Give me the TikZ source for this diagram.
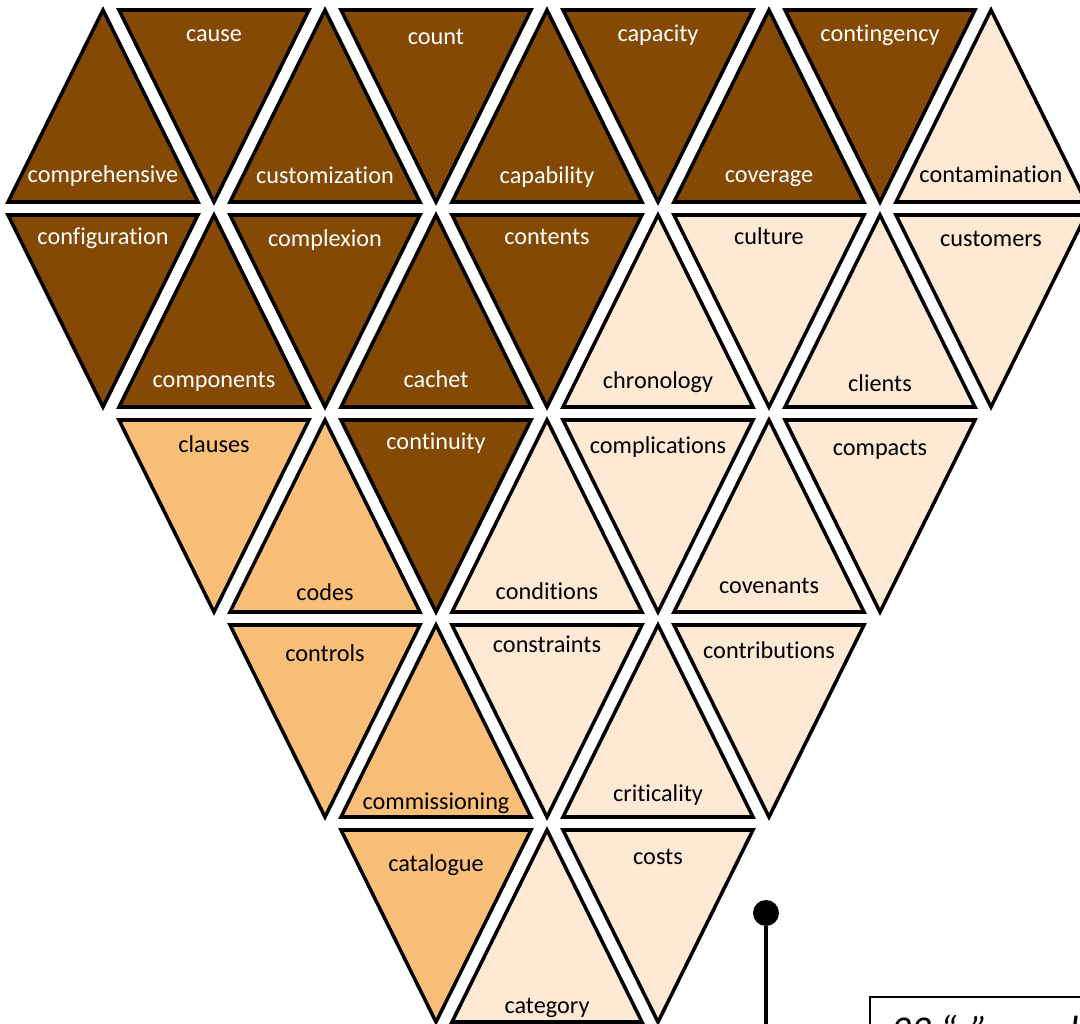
\documentclass[tikz,border=0pt]{standalone}
\usepackage{fontspec}
\setmainfont{Carlito}[Ligatures={TeX,NoCommon}]
\usepackage{tikz}

\definecolor{tridark}{RGB}{132,74,5}
\definecolor{trimid}{RGB}{249,191,120}
\definecolor{trilight}{RGB}{253,233,212}

\begin{document}
\begin{tikzpicture}[x=0.02cm,y=-0.02cm,
    tri/.style={draw=black,line width=2pt,line join=miter},
    lbl/.style={font=\fontsize{13.8}{16}\selectfont,anchor=base,inner sep=0pt}]
  \useasboundingbox (0,0) rectangle (1080,1024);
  \clip (0,0) rectangle (1080,1024);
  % triangles pointing up, word near the base
  \foreach \cx/\ty/\fc/\tc/\dy/\w in {103/10/tridark/white/0/comprehensive,325/10/tridark/white/1/customization,
      547/10/tridark/white/1/capability,769/10/tridark/white/0/coverage,991/10/trilight/black/0/contamination,
      214/215/tridark/white/-1/components,436/215/tridark/white/-1/cachet,658/215/trilight/black/0/chronology,
      880/215/trilight/black/4/clients,
      325/420/trimid/black/7/codes,547/420/trilight/black/6/conditions,769/420/trilight/black/0/covenants,
      436/625/trimid/black/11/commissioning,658/625/trilight/black/3/criticality,
      547/830/trilight/black/10/category}{
    \draw[tri,fill=\fc] (\cx-95,\ty+192) -- (\cx,\ty) -- (\cx+95,\ty+192) -- cycle;
    \node[lbl,text=\tc] (\w) at (\cx,\ty+173+\dy) {\w};
  }
  % triangles pointing down, word near the top
  \foreach \cx/\ty/\fc/\tc/\dy/\w in {214/10/tridark/white/0/cause,436/10/tridark/white/3/count,
      658/10/tridark/white/0/capacity,880/10/tridark/white/0/contingency,
      103/215/tridark/white/-2/configuration,325/215/tridark/white/0/complexion,547/215/tridark/white/-2/contents,
      769/215/trilight/black/-2/culture,991/215/trilight/black/0/customers,
      214/420/trimid/black/0/clauses,436/420/tridark/white/-3/continuity,658/420/trilight/black/2/complications,
      880/420/trilight/black/4/compacts,
      325/625/trimid/black/4/controls,547/625/trilight/black/-5/constraints,769/625/trilight/black/1/contributions,
      436/830/trimid/black/9/catalogue,658/830/trilight/black/2/costs}{
    \draw[tri,fill=\fc] (\cx-95,\ty) -- (\cx+95,\ty) -- (\cx,\ty+192) -- cycle;
    \node[lbl,text=\tc] (\w) at (\cx,\ty+32+\dy) {\w};
  }
  % pin and note box
  \node[circle,fill=black,inner sep=0pt,minimum size=0.52cm] (pin) at (766,913) {};
  \coordinate (pinend) at (766,1040);
  \draw[line width=2pt] (pin) -- (pinend);
  \draw[line width=1pt] (870,997) rectangle (1200,1200);
  \node[font=\fontsize{22.4}{26}\selectfont\itshape,anchor=base west,inner sep=0pt] (note) at (891,1043) {33 “c” words};
\end{tikzpicture}
\end{document}
